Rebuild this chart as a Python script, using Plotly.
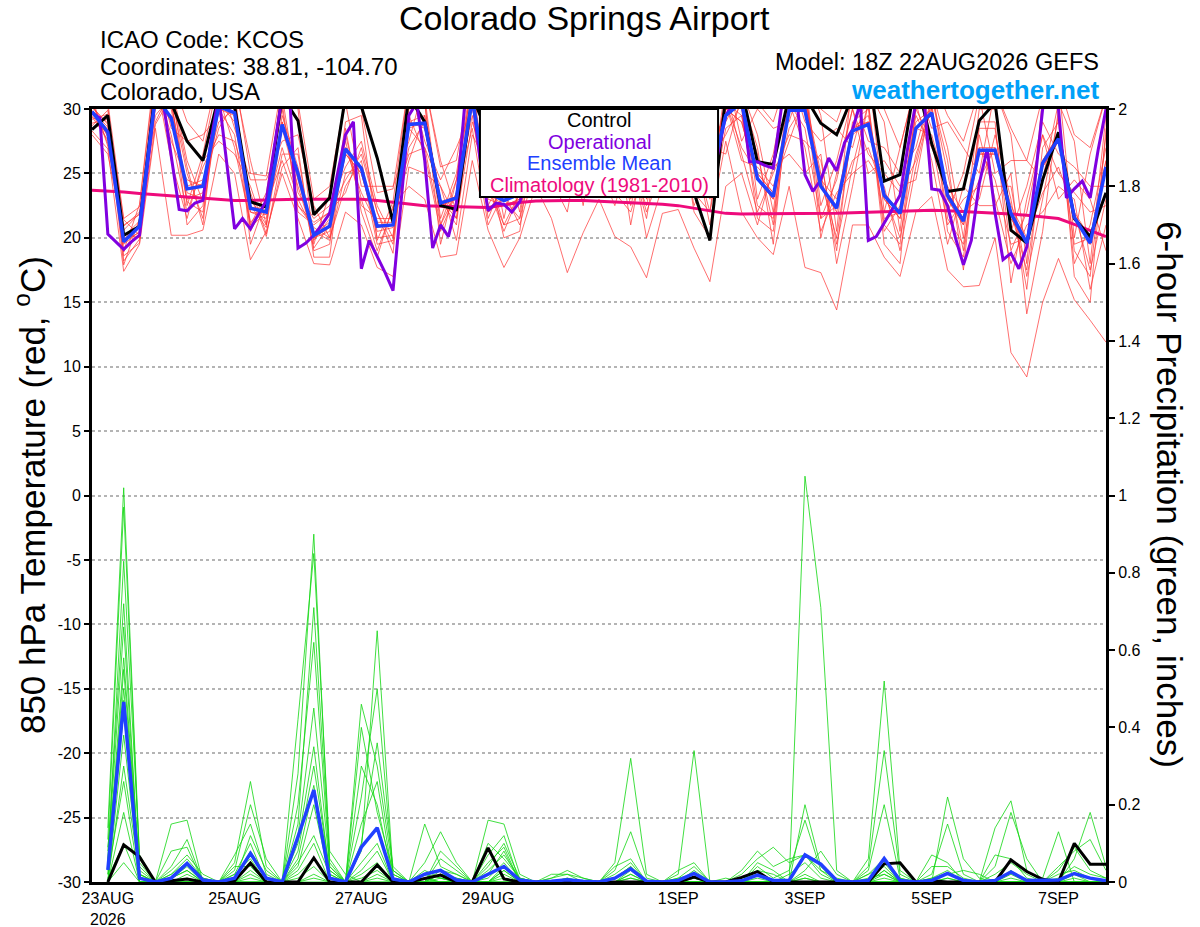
import pandas as pd
import plotly.graph_objects as go

# time axes: GEFS members every 6 h, operational GFS every 3 h
times_6h = pd.date_range("2026-08-22 18:00", periods=65, freq="6h")
times_3h = pd.date_range("2026-08-22 18:00", periods=129, freq="3h")
pcp_times = times_6h[1:]

# 850 hPa temperature (C), control run, 6-hourly
control_t = [
    28.4, 29.5, 20.2, 20.9,
    31.5, 30.5, 27.5, 26.0,
    31.0, 30.2, 22.8, 22.4,
    31.0, 29.1, 21.8, 23.1,
    31.0, 30.2, 26.2, 21.2,
    31.0, 29.0, 22.5, 22.2,
    31.0, 28.0, 26.0, 25.5,
    30.0, 30.5, 27.0, 26.0,
    29.0, 30.0, 27.0, 25.0,
    28.0, 29.5, 23.5, 19.8,
    31.0, 31.5, 25.9, 25.7,
    31.0, 31.0, 28.9, 28.0,
    31.0, 33.0, 24.4, 24.9,
    32.5, 27.3, 23.6, 23.8,
    29.1, 30.5, 20.6, 19.6,
    24.5, 28.2, 21.5, 20.1,
    23.5,
]

# ensemble mean, 6-hourly
mean_t = [
    29.8, 28.2, 19.7, 20.9,
    31.0, 29.3, 23.8, 24.0,
    30.2, 29.7, 22.3, 22.0,
    28.8, 25.0, 20.2, 20.9,
    26.9, 25.4, 20.9, 21.0,
    28.8, 28.9, 22.7, 23.1,
    30.8, 23.5, 22.9, 23.4,
    28.0, 28.5, 26.0, 26.0,
    28.0, 28.5, 26.0, 25.0,
    27.5, 28.5, 26.0, 24.5,
    29.5, 30.5, 24.6, 23.2,
    29.9, 29.9, 24.0, 22.3,
    28.3, 28.8, 23.3, 21.9,
    28.5, 29.7, 23.3, 21.3,
    26.8, 26.8, 21.9, 19.6,
    25.8, 27.7, 21.6, 19.6,
    25.5,
]

# operational run, 3-hourly
oper_t = [
    29.7, 29.3, 20.3, 19.7, 19.1, 19.7, 20.2, 25.5,
    31.0, 30.5, 26.5, 22.2, 22.1, 22.7, 22.9, 27.5,
    31.0, 26.0, 20.7, 21.5, 20.7, 21.8, 22.9, 27.0,
    31.0, 30.5, 19.2, 19.6, 20.2, 21.0, 21.9, 25.0,
    28.0, 29.0, 17.6, 19.8, 18.6, 17.3, 15.9, 22.5,
    29.5, 30.5, 26.0, 19.2, 21.0, 20.1, 22.7, 30.0,
    31.0, 26.0, 22.1, 22.7, 22.6, 22.0, 22.8, 24.5,
    26.0, 28.0, 29.5, 29.0, 27.0, 25.5, 25.0, 26.5,
    29.0, 30.0, 28.5, 26.5, 25.0, 24.5, 24.0, 26.0,
    28.5, 30.0, 30.5, 28.5, 26.5, 25.0, 24.0, 26.5,
    29.5, 30.5, 31.0, 25.9, 25.9, 25.6, 25.4, 30.0,
    31.0, 30.5, 24.9, 23.6, 24.5, 26.2, 25.2, 27.4,
    28.4, 30.5, 19.8, 20.1, 21.1, 22.2, 23.3, 27.1,
    30.5, 31.0, 23.8, 23.7, 22.5, 20.0, 17.9, 19.8,
    24.2, 26.9, 21.9, 18.3, 18.8, 17.6, 19.3, 24.2,
    30.0, 31.0, 30.0, 23.1, 23.8, 24.4, 23.1, 26.8,
    30.0,
]

# 1981-2010 climatology
clim_t = [
    23.7, 23.65, 23.55, 23.45,
    23.35, 23.25, 23.15, 23.05,
    22.95, 22.9, 22.9, 22.95,
    23.0, 23.0, 23.0, 23.0,
    23.0, 23.0, 22.9, 22.75,
    22.6, 22.5, 22.45, 22.4,
    22.35, 22.35, 22.55, 22.75,
    22.85, 22.9, 22.9, 22.9,
    22.85, 22.8, 22.75, 22.7,
    22.6, 22.5, 22.3, 22.1,
    21.9, 21.85, 21.85, 21.85,
    21.85, 21.85, 21.9, 21.9,
    21.95, 22.0, 22.05, 22.1,
    22.15, 22.15, 22.1, 22.05,
    22.0, 21.95, 21.85, 21.75,
    21.65, 21.5, 21.05, 20.6,
    20.1,
]

# perturbed members, one row per 6-hour step (16 members per row)
member_t_by_step = [
    [29.5, 30.4, 28.9, 31.0, 29.8, 28.3, 30.9, 29.2, 30.1, 31.2, 28.7, 29.9, 30.6, 29.4, 30.2, 28.0],
    [28.0, 27.8, 29.2, 30.2, 28.4, 26.9, 27.1, 29.6, 28.9, 30.5, 29.9, 28.6, 27.3, 27.6, 28.8, 26.5],
    [19.8, 20.9, 18.6, 19.0, 18.9, 17.4, 21.0, 21.4, 17.9, 21.5, 18.2, 19.9, 20.6, 19.5, 20.1, 20.3],
    [20.4, 22.0, 19.6, 22.6, 21.2, 19.5, 21.8, 20.2, 21.5, 22.4, 19.9, 21.0, 21.9, 20.5, 21.3, 20.0],
    [31.5, 30.0, 32.0, 33.5, 31.0, 28.5, 29.0, 33.0, 32.0, 33.0, 32.5, 31.5, 29.5, 30.5, 31.8, 28.8],
    [30.5, 32.0, 28.0, 28.5, 29.0, 20.2, 31.5, 32.5, 27.5, 32.5, 26.0, 30.0, 31.0, 29.5, 30.5, 31.0],
    [23.5, 26.0, 22.0, 27.5, 24.0, 20.2, 25.5, 22.5, 24.5, 29.0, 21.5, 23.0, 25.0, 22.8, 23.8, 21.0],
    [23.0, 22.8, 25.5, 28.0, 24.5, 20.6, 21.0, 26.5, 24.0, 27.5, 26.0, 23.5, 21.5, 22.0, 24.2, 22.5],
    [30.5, 32.0, 28.0, 29.5, 29.0, 26.5, 31.5, 32.5, 28.5, 33.0, 27.5, 30.0, 31.5, 30.0, 30.5, 31.0],
    [29.0, 31.5, 27.5, 32.0, 30.0, 25.0, 31.0, 28.5, 30.5, 32.5, 26.5, 29.5, 31.0, 28.0, 30.0, 27.0],
    [22.0, 21.0, 23.5, 26.0, 22.5, 18.3, 19.5, 24.5, 23.0, 25.0, 24.0, 22.0, 20.5, 20.8, 22.4, 21.2],
    [21.5, 23.5, 20.1, 21.0, 20.8, 20.5, 23.0, 24.5, 21.0, 24.8, 20.3, 21.8, 23.0, 22.0, 22.2, 22.5],
    [29.0, 31.0, 26.5, 32.0, 28.5, 25.0, 30.5, 27.5, 29.5, 32.0, 25.5, 28.5, 30.0, 27.0, 29.0, 26.0],
    [24.5, 23.5, 26.5, 30.0, 25.0, 21.5, 22.0, 28.0, 25.5, 30.5, 27.0, 24.0, 22.5, 23.0, 25.0, 22.5],
    [20.0, 21.5, 19.0, 19.5, 19.2, 18.0, 21.0, 22.5, 19.8, 23.0, 18.5, 20.0, 21.2, 20.5, 20.3, 20.8],
    [20.5, 22.5, 19.5, 23.5, 21.0, 17.9, 22.0, 20.0, 21.5, 24.0, 18.5, 20.8, 22.0, 19.8, 21.2, 20.0],
    [26.5, 25.5, 28.0, 30.5, 27.0, 22.0, 23.5, 29.0, 27.5, 31.0, 28.5, 26.5, 24.5, 25.0, 27.0, 24.0],
    [25.0, 27.5, 23.0, 24.0, 23.5, 21.0, 27.0, 29.5, 22.5, 30.0, 22.0, 25.0, 26.5, 25.5, 25.5, 26.0],
    [20.5, 22.5, 19.0, 24.0, 21.0, 17.7, 22.0, 19.8, 21.5, 23.5, 18.5, 20.8, 22.0, 19.5, 21.2, 20.0],
    [20.8, 20.0, 22.3, 24.0, 21.0, 17.0, 18.8, 22.8, 21.5, 23.8, 22.5, 21.0, 19.5, 19.8, 21.2, 20.2],
    [29.0, 31.0, 26.5, 27.5, 27.0, 25.5, 30.5, 32.0, 26.0, 32.0, 24.0, 28.5, 30.0, 28.5, 29.0, 29.5],
    [28.5, 31.0, 27.0, 32.0, 29.0, 25.0, 30.5, 27.5, 29.5, 32.0, 23.0, 29.0, 30.5, 27.0, 29.5, 26.5],
    [22.5, 21.5, 24.0, 26.0, 23.0, 24.0, 19.5, 24.5, 23.0, 25.5, 18.5, 22.5, 21.0, 21.0, 22.8, 20.5],
    [23.0, 25.0, 21.5, 22.0, 21.5, 19.8, 24.5, 27.0, 21.0, 26.0, 18.7, 23.0, 24.5, 23.5, 23.2, 23.5],
    [31.0, 32.5, 29.0, 33.0, 30.5, 28.0, 32.0, 30.0, 31.5, 33.0, 26.0, 31.0, 32.0, 29.5, 31.0, 28.5],
    [23.5, 22.5, 25.0, 28.0, 24.0, 25.5, 21.5, 26.0, 24.0, 27.5, 20.6, 23.0, 22.0, 22.0, 23.5, 21.0],
    [22.5, 25.0, 21.0, 21.5, 21.0, 20.0, 24.5, 26.5, 20.5, 27.0, 17.7, 22.5, 24.0, 23.0, 23.0, 23.5],
    [23.0, 25.0, 21.5, 27.0, 23.5, 20.5, 24.5, 22.0, 23.5, 28.0, 20.0, 23.0, 24.5, 21.5, 23.2, 21.0],
    [28.5, 27.0, 30.0, 32.0, 28.5, 30.0, 25.0, 31.0, 29.0, 32.0, 24.0, 28.0, 26.0, 26.5, 28.5, 25.5],
    [28.0, 30.5, 25.5, 27.0, 26.0, 24.5, 30.0, 31.5, 25.0, 32.0, 21.5, 28.0, 29.5, 28.0, 28.5, 29.0],
    [27.0, 30.0, 24.5, 31.0, 27.5, 22.0, 29.0, 25.5, 28.0, 31.5, 17.3, 27.0, 28.5, 25.0, 27.5, 23.5],
    [26.5, 25.0, 28.5, 31.0, 27.0, 29.0, 22.5, 30.0, 28.0, 31.5, 20.4, 27.0, 24.0, 24.5, 27.5, 23.5],
    [29.0, 31.0, 27.0, 28.0, 27.5, 25.5, 30.5, 32.0, 26.5, 32.0, 23.0, 29.0, 30.5, 29.5, 29.5, 29.5],
    [27.0, 29.5, 24.5, 31.0, 27.5, 22.5, 29.0, 25.5, 28.0, 31.0, 20.1, 27.0, 28.5, 25.0, 27.5, 23.5],
    [25.0, 23.5, 26.5, 29.5, 25.5, 27.0, 21.0, 28.0, 26.0, 30.0, 19.3, 25.0, 22.5, 23.0, 25.5, 22.0],
    [25.0, 28.5, 22.0, 23.0, 22.5, 20.0, 27.5, 30.0, 21.5, 30.5, 16.9, 25.0, 27.0, 25.5, 25.5, 26.0],
    [28.0, 30.5, 25.5, 31.5, 28.5, 24.0, 30.0, 26.5, 29.0, 32.0, 21.9, 28.0, 29.5, 26.0, 28.5, 25.0],
    [28.0, 26.5, 30.0, 32.0, 28.5, 30.0, 24.0, 31.0, 29.0, 32.0, 22.2, 28.0, 25.5, 26.0, 28.5, 25.0],
    [26.0, 29.0, 23.5, 24.5, 23.5, 22.0, 28.0, 30.5, 22.5, 31.0, 19.2, 26.0, 27.5, 26.5, 26.5, 27.0],
    [24.5, 28.0, 22.0, 29.5, 25.0, 20.0, 27.0, 23.0, 25.5, 30.0, 16.6, 24.5, 26.0, 22.0, 25.0, 21.0],
    [30.0, 29.0, 31.5, 33.0, 30.5, 31.5, 26.5, 32.0, 30.5, 33.0, 24.0, 30.0, 28.0, 28.5, 30.5, 27.5],
    [29.0, 31.5, 26.5, 27.5, 27.0, 30.0, 31.0, 32.5, 26.0, 33.0, 25.0, 29.0, 30.5, 29.5, 29.5, 22.0],
    [24.5, 28.0, 22.0, 30.0, 25.0, 21.5, 27.0, 23.0, 25.5, 30.5, 21.0, 24.5, 26.5, 22.5, 25.0, 20.0],
    [23.0, 22.0, 25.0, 28.5, 23.5, 20.5, 19.5, 26.5, 24.0, 29.0, 25.5, 23.0, 21.0, 21.5, 23.5, 18.7],
    [30.0, 32.0, 28.0, 29.0, 28.5, 30.5, 31.5, 33.0, 27.5, 33.0, 26.5, 30.0, 31.5, 30.5, 30.5, 24.0],
    [30.5, 32.5, 27.5, 33.0, 30.5, 27.0, 32.0, 29.0, 31.0, 33.5, 25.0, 30.5, 32.0, 28.5, 31.0, 17.7],
    [24.0, 22.5, 26.0, 29.5, 24.5, 20.5, 20.0, 27.5, 25.0, 30.0, 26.5, 24.0, 21.5, 21.5, 24.5, 17.3],
    [22.0, 26.0, 19.5, 20.5, 20.0, 23.5, 25.0, 28.5, 19.0, 29.0, 18.0, 22.5, 24.5, 22.5, 23.0, 14.4],
    [28.0, 31.0, 25.5, 32.5, 28.5, 25.0, 30.0, 27.0, 29.0, 32.5, 24.0, 28.5, 30.0, 26.0, 28.5, 21.0],
    [29.0, 27.5, 30.5, 33.0, 29.0, 26.0, 25.0, 31.5, 30.0, 33.0, 30.5, 29.0, 26.5, 27.0, 29.5, 21.0],
    [23.0, 27.0, 21.0, 22.0, 21.5, 24.0, 26.0, 29.0, 20.5, 30.0, 19.5, 23.0, 25.0, 23.5, 23.5, 18.5],
    [21.5, 25.0, 19.5, 27.0, 22.0, 19.0, 24.0, 20.5, 22.5, 27.0, 18.0, 21.5, 23.5, 20.0, 22.0, 17.0],
    [28.5, 27.0, 30.0, 32.0, 28.5, 25.5, 24.5, 31.0, 29.5, 32.0, 30.5, 28.5, 26.0, 26.5, 29.0, 22.0],
    [29.5, 31.5, 27.5, 28.5, 28.0, 30.5, 31.0, 32.5, 27.0, 32.5, 26.0, 29.5, 31.0, 30.0, 30.0, 23.2],
    [23.0, 27.0, 21.0, 29.0, 23.5, 20.5, 26.0, 22.0, 24.0, 29.5, 19.5, 23.0, 25.0, 21.5, 23.5, 17.5],
    [21.0, 20.0, 23.0, 27.0, 21.5, 18.5, 17.5, 25.0, 22.0, 27.5, 24.0, 21.0, 19.0, 19.5, 21.5, 16.2],
    [26.5, 30.0, 24.0, 25.0, 24.5, 28.0, 29.0, 31.0, 23.0, 31.5, 22.5, 26.5, 28.5, 27.0, 27.0, 16.3],
    [26.5, 30.0, 24.0, 31.5, 27.0, 23.0, 29.0, 25.0, 28.0, 31.5, 22.5, 26.5, 28.5, 24.5, 27.0, 20.0],
    [21.5, 20.5, 24.0, 28.0, 22.0, 18.0, 16.5, 26.0, 23.0, 28.5, 25.0, 21.5, 19.0, 19.5, 22.5, 11.1],
    [19.5, 24.0, 17.0, 18.0, 17.5, 21.0, 23.0, 26.0, 16.0, 26.0, 14.1, 19.5, 22.0, 20.0, 20.0, 9.2],
    [25.5, 29.0, 23.0, 31.0, 26.0, 22.0, 28.0, 24.5, 27.0, 31.0, 20.5, 25.5, 28.0, 23.5, 26.0, 15.0],
    [27.5, 26.5, 29.5, 32.0, 28.0, 24.0, 23.0, 30.5, 29.0, 32.0, 30.0, 27.5, 25.0, 25.5, 28.0, 18.4],
    [21.5, 25.5, 19.0, 20.0, 19.5, 23.0, 24.5, 27.5, 18.0, 28.0, 17.0, 21.5, 23.5, 22.0, 22.0, 15.2],
    [19.5, 24.0, 17.0, 26.5, 20.0, 16.0, 23.0, 18.0, 21.0, 27.0, 15.0, 19.5, 22.0, 17.5, 20.0, 13.6],
    [25.5, 24.0, 28.0, 31.0, 26.0, 21.0, 19.0, 29.5, 27.0, 31.0, 28.5, 25.5, 22.5, 23.0, 26.0, 11.9],
]

# 6-hour precipitation (inches), starting 23AUG 00Z
control_p = [
    0.0, 0.096, 0.065, 0.0,
    0.003, 0.008, 0.0, 0.0,
    0.003, 0.049, 0.0, 0.0,
    0.0, 0.062, 0.0, 0.0,
    0.0, 0.044, 0.0, 0.0,
    0.01, 0.018, 0.0, 0.0,
    0.088, 0.008, 0.0, 0.0,
    0.0, 0.0, 0.0, 0.0,
    0.0, 0.0, 0.0, 0.0,
    0.0, 0.013, 0.0, 0.0,
    0.012, 0.027, 0.0, 0.0,
    0.0, 0.0, 0.0, 0.0,
    0.0, 0.047, 0.05, 0.0,
    0.003, 0.0, 0.0, 0.0,
    0.0, 0.057, 0.027, 0.007,
    0.0, 0.1, 0.046, 0.046,
]

mean_p = [
    0.031, 0.466, 0.01, 0.0,
    0.01, 0.048, 0.005, 0.0,
    0.01, 0.074, 0.01, 0.0,
    0.117, 0.238, 0.01, 0.0,
    0.09, 0.14, 0.008, 0.0,
    0.02, 0.03, 0.005, 0.0,
    0.02, 0.04, 0.005, 0.0,
    0.002, 0.006, 0.002, 0.0,
    0.01, 0.034, 0.002, 0.0,
    0.004, 0.022, 0.0, 0.0,
    0.003, 0.018, 0.004, 0.004,
    0.07, 0.046, 0.004, 0.0,
    0.004, 0.061, 0.004, 0.0,
    0.004, 0.022, 0.004, 0.0,
    0.004, 0.026, 0.004, 0.004,
    0.005, 0.022, 0.01, 0.003,
]

member_p_by_step = [
    [0.14, 0.09, 0.05, 0.02, 0, 0.03, 0.11, 0, 0.06, 0.01, 0, 0.04, 0.08, 0, 0.02, 0],
    [1.02, 0.47, 0.83, 0.26, 0.05, 0.58, 0.97, 0.18, 0.66, 0.10, 0.30, 0.50, 0.72, 0.38, 0.44, 0.55],
    [0.06, 0.02, 0.07, 0, 0, 0.03, 0.05, 0, 0.01, 0, 0.02, 0.04, 0, 0.01, 0, 0.02],
    [0, 0, 0, 0, 0, 0, 0, 0, 0, 0, 0, 0, 0, 0, 0, 0],
    [0, 0.01, 0, 0.02, 0.15, 0, 0.03, 0, 0.01, 0.04, 0, 0, 0.02, 0.08, 0, 0.01],
    [0, 0.03, 0, 0.05, 0.16, 0.01, 0.07, 0, 0.04, 0.11, 0.02, 0, 0.06, 0.09, 0, 0.03],
    [0, 0, 0, 0.01, 0, 0, 0.02, 0, 0, 0, 0, 0, 0.01, 0, 0, 0],
    [0, 0, 0, 0, 0, 0, 0, 0, 0, 0, 0, 0, 0, 0, 0, 0],
    [0.02, 0, 0.05, 0, 0, 0.01, 0.03, 0, 0.07, 0, 0, 0.02, 0, 0.04, 0, 0.01],
    [0.10, 0.02, 0.26, 0, 0.05, 0.08, 0.20, 0.01, 0.15, 0.03, 0, 0.06, 0.12, 0.04, 0, 0.07],
    [0, 0, 0.04, 0, 0, 0.01, 0.06, 0, 0.02, 0, 0, 0, 0.03, 0, 0, 0.01],
    [0, 0, 0, 0, 0, 0, 0, 0, 0, 0, 0, 0, 0, 0, 0, 0],
    [0.28, 0.05, 0, 0.12, 0.02, 0.42, 0.08, 0, 0.15, 0.01, 0.04, 0.10, 0, 0.06, 0.03, 0.20],
    [0.90, 0.12, 0.02, 0.45, 0.06, 0.85, 0.30, 0, 0.71, 0.04, 0.20, 0.35, 0.01, 0.25, 0.10, 0.62],
    [0.05, 0.02, 0, 0.04, 0, 0.08, 0.03, 0, 0.06, 0, 0.01, 0.02, 0, 0.03, 0, 0.04],
    [0, 0, 0, 0, 0, 0.02, 0, 0, 0, 0, 0, 0, 0, 0, 0, 0],
    [0, 0.46, 0.08, 0.02, 0.30, 0, 0.10, 0, 0.05, 0.22, 0, 0.15, 0.03, 0, 0.40, 0.01],
    [0.02, 0.30, 0.65, 0.05, 0.20, 0, 0.36, 0.04, 0.10, 0.50, 0, 0.26, 0.08, 0.01, 0.18, 0.03],
    [0, 0.03, 0.02, 0, 0.01, 0, 0.04, 0, 0, 0.02, 0, 0.01, 0, 0, 0.03, 0],
    [0, 0, 0, 0, 0, 0, 0, 0, 0, 0, 0, 0, 0, 0, 0, 0],
    [0, 0, 0.15, 0.02, 0, 0.05, 0, 0.01, 0, 0, 0.03, 0, 0, 0, 0.01, 0],
    [0.02, 0, 0.04, 0.01, 0, 0.13, 0.03, 0, 0.06, 0, 0.01, 0.02, 0, 0.08, 0, 0.01],
    [0.01, 0, 0.02, 0, 0, 0.05, 0.02, 0, 0.03, 0, 0, 0.01, 0, 0.04, 0, 0],
    [0, 0, 0, 0, 0, 0, 0, 0, 0, 0, 0, 0, 0, 0, 0, 0],
    [0, 0.10, 0, 0.02, 0.16, 0, 0.04, 0, 0, 0.07, 0.01, 0, 0.03, 0, 0.05, 0],
    [0.03, 0.06, 0, 0.08, 0.15, 0.02, 0.10, 0, 0.04, 0.12, 0.05, 0.01, 0.07, 0, 0.09, 0.03],
    [0, 0.01, 0, 0, 0.02, 0, 0.01, 0, 0, 0, 0, 0, 0.01, 0, 0, 0],
    [0, 0, 0, 0, 0, 0, 0, 0, 0, 0, 0, 0, 0, 0, 0, 0],
    [0, 0, 0.01, 0, 0, 0, 0, 0.02, 0, 0, 0, 0, 0, 0.01, 0, 0],
    [0, 0, 0.03, 0, 0, 0, 0.01, 0.02, 0, 0, 0, 0.01, 0, 0.02, 0, 0],
    [0, 0, 0.01, 0, 0, 0, 0, 0.01, 0, 0, 0, 0, 0, 0, 0, 0],
    [0, 0, 0, 0, 0, 0, 0, 0, 0, 0, 0, 0, 0, 0, 0, 0],
    [0, 0.02, 0.05, 0, 0.01, 0, 0, 0.03, 0, 0, 0.04, 0, 0, 0.01, 0, 0],
    [0, 0.05, 0.32, 0.01, 0.04, 0, 0.02, 0.13, 0, 0.01, 0.06, 0, 0.03, 0.04, 0, 0.02],
    [0, 0, 0.02, 0, 0, 0, 0, 0.01, 0, 0, 0, 0, 0, 0, 0, 0],
    [0, 0, 0, 0, 0, 0, 0, 0, 0, 0, 0, 0, 0, 0, 0, 0],
    [0, 0.01, 0, 0.03, 0, 0, 0.02, 0, 0, 0, 0.01, 0, 0, 0, 0, 0],
    [0, 0.04, 0, 0.05, 0, 0, 0.34, 0, 0.01, 0, 0.02, 0, 0.03, 0, 0, 0.01],
    [0, 0, 0, 0, 0, 0, 0, 0, 0, 0, 0, 0, 0, 0, 0, 0],
    [0, 0, 0, 0, 0, 0, 0, 0, 0, 0, 0, 0, 0, 0.01, 0, 0],
    [0, 0, 0.01, 0, 0.02, 0, 0, 0.03, 0, 0, 0, 0.01, 0, 0, 0, 0],
    [0, 0.02, 0.03, 0, 0.06, 0, 0.01, 0.08, 0, 0, 0.04, 0.02, 0, 0, 0.05, 0],
    [0, 0, 0.02, 0, 0.09, 0, 0, 0.04, 0, 0, 0.01, 0, 0, 0, 0.03, 0],
    [0, 0, 0, 0, 0.05, 0, 0, 0.06, 0, 0, 0.03, 0, 0.02, 0, 0, 0],
    [0, 0.01, 0.20, 0, 0.07, 1.05, 0, 0.07, 0.03, 0, 0.16, 0.02, 0.05, 0, 0.01, 0],
    [0, 0, 0.04, 0, 0.03, 0.71, 0, 0.02, 0.08, 0, 0.03, 0, 0.01, 0, 0, 0],
    [0, 0, 0, 0, 0.01, 0.03, 0, 0, 0.02, 0, 0, 0, 0, 0, 0, 0],
    [0, 0, 0, 0, 0, 0, 0, 0, 0, 0, 0, 0, 0, 0, 0, 0],
    [0, 0.03, 0, 0.06, 0, 0, 0.02, 0, 0.04, 0, 0, 0.01, 0, 0, 0.02, 0],
    [0.02, 0.20, 0, 0.52, 0.01, 0.03, 0.04, 0, 0.34, 0, 0.05, 0.02, 0, 0.03, 0.06, 0],
    [0, 0.01, 0, 0.03, 0, 0, 0, 0, 0.02, 0, 0, 0, 0, 0, 0.01, 0],
    [0, 0, 0, 0, 0, 0, 0, 0, 0, 0, 0, 0, 0, 0, 0, 0],
    [0, 0, 0.07, 0, 0.02, 0, 0.01, 0, 0, 0, 0, 0.04, 0, 0.01, 0, 0],
    [0, 0.01, 0.05, 0, 0.15, 0, 0.03, 0, 0.22, 0, 0, 0.04, 0, 0.02, 0, 0.01],
    [0, 0, 0, 0, 0.02, 0, 0, 0, 0.06, 0, 0, 0.01, 0, 0.03, 0, 0],
    [0, 0, 0, 0, 0, 0, 0, 0, 0.01, 0, 0, 0, 0, 0.02, 0, 0],
    [0, 0.14, 0, 0, 0, 0, 0.07, 0, 0, 0.04, 0, 0, 0.02, 0, 0, 0],
    [0, 0.21, 0, 0, 0.01, 0, 0.06, 0, 0, 0.18, 0, 0.02, 0.05, 0, 0.03, 0],
    [0, 0.03, 0, 0, 0, 0, 0.01, 0, 0, 0.06, 0, 0, 0.02, 0, 0, 0],
    [0, 0, 0, 0.01, 0, 0, 0, 0, 0, 0, 0, 0, 0, 0, 0, 0],
    [0, 0, 0, 0.13, 0, 0.03, 0, 0, 0.01, 0, 0.04, 0, 0, 0, 0.02, 0],
    [0, 0, 0.06, 0, 0, 0.09, 0, 0.02, 0.04, 0, 0.08, 0, 0, 0, 0.03, 0.01],
    [0, 0, 0.18, 0, 0, 0.03, 0, 0, 0.02, 0, 0.11, 0, 0, 0, 0.01, 0],
    [0, 0, 0.04, 0, 0, 0.01, 0, 0, 0.01, 0, 0.03, 0, 0, 0, 0, 0],
]

date_ticks = ["2026-08-23", "2026-08-25", "2026-08-27", "2026-08-29",
              "2026-09-01", "2026-09-03", "2026-09-05", "2026-09-07"]
date_labels = ["23AUG<br>2026", "25AUG", "27AUG", "29AUG", "1SEP", "3SEP", "5SEP", "7SEP"]
temp_ticks = [-30, -25, -20, -15, -10, -5, 0, 5, 10, 15, 20, 25, 30]
pcp_ticks = [0, 0.2, 0.4, 0.6, 0.8, 1, 1.2, 1.4, 1.6, 1.8, 2]

FONT = "Liberation Sans, Arial, Helvetica, sans-serif"
PURPLE = "#8000e0"
BLUE = "#2040ff"
PINK = "#ee0a7c"

fig = go.Figure()

# red member lines
for member in zip(*member_t_by_step):
    fig.add_trace(go.Scatter(x=times_6h, y=list(member), mode="lines",
                             line=dict(color="rgba(255,55,55,0.8)", width=0.9),
                             hoverinfo="skip", showlegend=False))

# green member lines (precip, right axis)
for member in zip(*member_p_by_step):
    fig.add_trace(go.Scatter(x=pcp_times, y=list(member), mode="lines", yaxis="y2",
                             line=dict(color="rgba(20,215,20,0.9)", width=0.9),
                             hoverinfo="skip", showlegend=False))

fig.add_trace(go.Scatter(x=times_6h, y=clim_t, mode="lines",
                         line=dict(color=PINK, width=3), showlegend=False))
fig.add_trace(go.Scatter(x=times_6h, y=control_t, mode="lines",
                         line=dict(color="black", width=3), showlegend=False))
fig.add_trace(go.Scatter(x=pcp_times, y=control_p, mode="lines", yaxis="y2",
                         line=dict(color="black", width=3), showlegend=False))
fig.add_trace(go.Scatter(x=times_3h, y=oper_t, mode="lines",
                         line=dict(color=PURPLE, width=3), showlegend=False))
fig.add_trace(go.Scatter(x=times_6h, y=mean_t, mode="lines",
                         line=dict(color=BLUE, width=3.5), showlegend=False))
fig.add_trace(go.Scatter(x=pcp_times, y=mean_p, mode="lines", yaxis="y2",
                         line=dict(color=BLUE, width=3.5), showlegend=False))

fig.update_layout(
    width=1200, height=927,
    margin=dict(l=92, r=94, t=109, b=45),
    paper_bgcolor="white", plot_bgcolor="white",
    font=dict(family=FONT, color="black"),
    showlegend=False,
    xaxis=dict(type="date", range=[times_6h[0], times_6h[-1]],
               tickvals=date_ticks, ticktext=date_labels,
               tickfont=dict(size=16), automargin=False,
               showgrid=False, zeroline=False, ticks="",
               showline=True, linecolor="black", linewidth=3, mirror=True),
    yaxis=dict(range=[-30, 30], tickvals=temp_ticks,
               ticktext=[str(v) for v in temp_ticks],
               tickfont=dict(size=16), automargin=False,
               showgrid=True, gridcolor="#b4b4b4", gridwidth=1.5, griddash="dot",
               zeroline=False, ticks="outside", ticklen=5, tickwidth=1.5,
               tickcolor="black",
               showline=True, linecolor="black", linewidth=3),
    yaxis2=dict(range=[0, 2], overlaying="y", side="right",
                tickvals=pcp_ticks, ticktext=[str(v) for v in pcp_ticks],
                tickfont=dict(size=16), automargin=False,
                showgrid=False, zeroline=False,
                ticks="outside", ticklen=6, tickwidth=1.5, tickcolor="black",
                showline=True, linecolor="black", linewidth=3),
)

# legend box drawn over the lines
fig.add_shape(type="rect", xref="paper", yref="paper",
              x0=0.3826, x1=0.6174, y0=0.8862, y1=1.0,
              fillcolor="white", line=dict(color="black", width=2), layer="above")

legend_items = [("Control", "black", 0.9858), ("Operational", PURPLE, 0.9573),
                ("Ensemble Mean", BLUE, 0.9302), ("Climatology (1981-2010)", PINK, 0.9017)]
for text, color, yy in legend_items:
    fig.add_annotation(x=0.5, y=yy, xref="paper", yref="paper", text=text,
                       showarrow=False, xanchor="center", yanchor="middle",
                       font=dict(size=20, color=color, family=FONT))

header = [
    ("Colorado Springs Airport", 0.486, 1.1177, "center", 34, "black"),
    ("ICAO Code: KCOS", 0.0059, 1.0893, "left", 24, "black"),
    ("Coordinates: 38.81, -104.70", 0.0059, 1.0556, "left", 24, "black"),
    ("Colorado, USA", 0.0059, 1.022, "left", 24, "black"),
    ("Model: 18Z 22AUG2026 GEFS", 0.995, 1.061, "right", 23.5, "black"),
    ("<b>weathertogether.net</b>", 0.995, 1.0245, "right", 26, "#00a0f8"),
]
for text, xx, yy, anchor, size, color in header:
    fig.add_annotation(x=xx, y=yy, xref="paper", yref="paper", text=text,
                       showarrow=False, xanchor=anchor, yanchor="middle",
                       font=dict(size=size, color=color, family=FONT))

fig.add_annotation(x=-0.0611, y=0.5006, xref="paper", yref="paper",
                   text="850 hPa Temperature (red, <sup>o</sup>C)", textangle=-90,
                   showarrow=False, xanchor="center", yanchor="middle",
                   font=dict(size=35, family=FONT))
fig.add_annotation(x=1.063, y=0.5006, xref="paper", yref="paper",
                   text="6-hour Precipitation (green, inches)", textangle=90,
                   showarrow=False, xanchor="center", yanchor="middle",
                   font=dict(size=35, family=FONT))

# drop the browser's default page margin so the figure sits at the window corner
fig.write_html("out.html", config={"displayModeBar": False},
               post_script="document.body.style.margin = '0';")
